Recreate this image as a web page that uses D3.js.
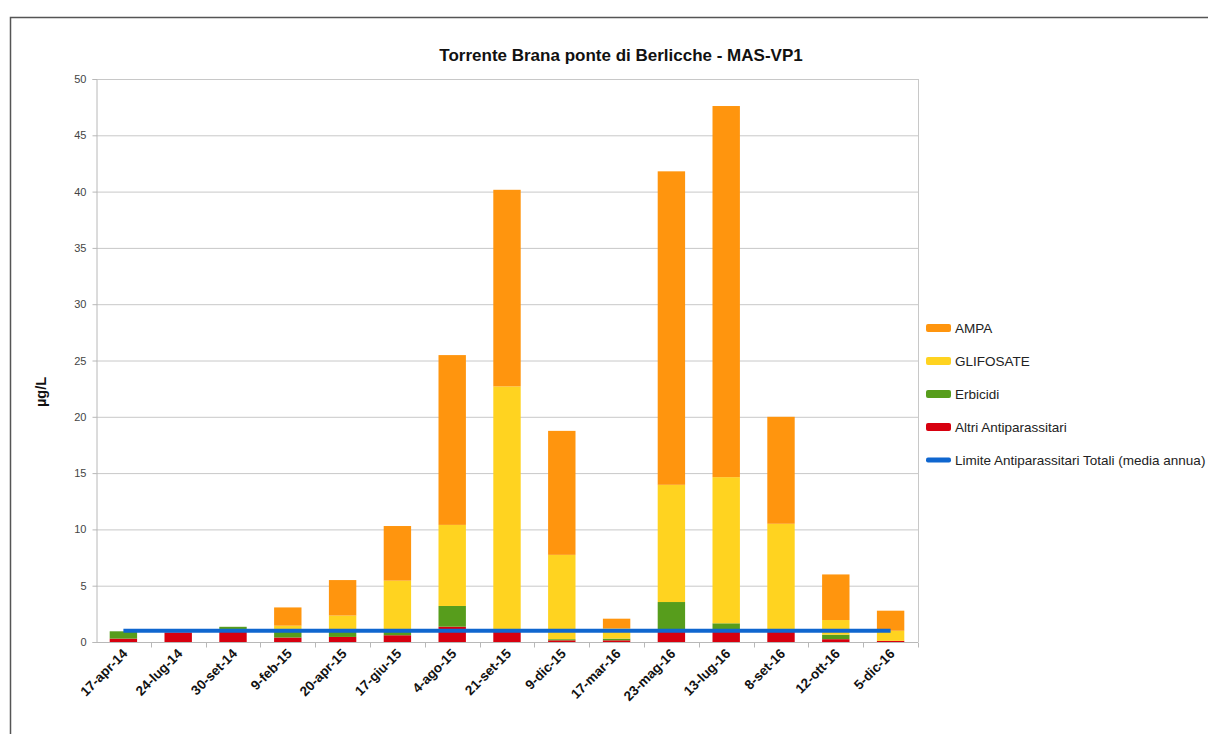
<!DOCTYPE html>
<html>
<head>
<meta charset="utf-8">
<script src="https://cdn.jsdelivr.net/npm/d3@7"></script>
<style>
  html, body { margin: 0; padding: 0; background: #fff; }
  svg { display: block; font-family: "Liberation Sans", Arial, sans-serif; }
</style>
</head>
<body>
<svg id="chart" width="1208" height="734"></svg>
<script>
// Sampling dates (x categories)
const dates = ["17-apr-14","24-lug-14","30-set-14","9-feb-15","20-apr-15","17-giu-15","4-ago-15",
  "21-set-15","9-dic-15","17-mar-16","23-mag-16","13-lug-16","8-set-16","12-ott-16","5-dic-16"];

// Concentrations in µg/L, stacked bottom to top
const altriAntiparassitari = [0.3, 0.85, 1.0, 0.4, 0.45, 0.6, 1.36, 0.95, 0.15, 0.15, 0.9, 0.9, 0.9, 0.25, 0.1];
const erbicidi            = [0.65, 0, 0.35, 0.75, 0.55, 0.4, 1.84, 0, 0.1, 0.15, 2.65, 0.76, 0, 0.4, 0];
const glifosate           = [0, 0, 0, 0.3, 1.35, 4.45, 7.2, 21.75, 7.49, 0.9, 10.41, 12.98, 9.6, 1.3, 0.9];
const ampa                = [0, 0, 0, 1.62, 3.15, 4.85, 15.08, 17.46, 11.01, 0.87, 27.84, 32.96, 9.5, 4.05, 1.78];

// Annual-average limit for total pesticides
const limiteTotali = 1.0;

const yTicks = [0, 5, 10, 15, 20, 25, 30, 35, 40, 45, 50];

const seriesNames = ["Altri Antiparassitari", "Erbicidi", "GLIFOSATE", "AMPA"];
const seriesColors = {
  "AMPA": "#ff950e",
  "GLIFOSATE": "#ffd320",
  "Erbicidi": "#579d1c",
  "Altri Antiparassitari": "#d7000f"
};
const limitColor = "#0f66cf";

const rows = dates.map((d, i) => ({
  date: d,
  "Altri Antiparassitari": altriAntiparassitari[i],
  "Erbicidi": erbicidi[i],
  "GLIFOSATE": glifosate[i],
  "AMPA": ampa[i]
}));

const svg = d3.select("#chart");

// Outer frame
svg.append("rect")
  .attr("x", 10.5).attr("y", 17.5)
  .attr("width", 1300).attr("height", 800)
  .attr("fill", "none").attr("stroke", "#555").attr("stroke-width", 1.5);

const plot = { left: 96, top: 79, right: 918, bottom: 642 };

const x = d3.scaleBand().domain(dates).range([plot.left, plot.right]).paddingInner(0.5).paddingOuter(0.25);
const y = d3.scaleLinear().domain([0, 50]).range([plot.bottom, plot.top]);

// Horizontal grid lines
svg.append("g")
  .selectAll("line")
  .data(yTicks.filter(t => t > 0))
  .join("line")
  .attr("x1", plot.left).attr("x2", plot.right)
  .attr("y1", d => y(d) + 0.5).attr("y2", d => y(d) + 0.5)
  .attr("stroke", "#c8c8c8").attr("stroke-width", 1);

// Plot frame (right edge)
svg.append("line")
  .attr("x1", plot.right + 0.5).attr("x2", plot.right + 0.5)
  .attr("y1", plot.top).attr("y2", plot.bottom)
  .attr("stroke", "#c8c8c8");

// Stacked bars
const stack = d3.stack().keys(seriesNames)(rows);
svg.append("g")
  .selectAll("g")
  .data(stack)
  .join("g")
  .attr("fill", d => seriesColors[d.key])
  .selectAll("rect")
  .data(d => d)
  .join("rect")
  .attr("x", d => x(d.data.date))
  .attr("width", x.bandwidth())
  .attr("y", d => y(d[1]))
  .attr("height", d => Math.max(0, y(d[0]) - y(d[1])));

// Y axis
const yAxis = svg.append("g")
  .attr("transform", `translate(${plot.left + 0.5},0)`)
  .call(d3.axisLeft(y).tickValues(yTicks).tickSize(4).tickPadding(6));
yAxis.select(".domain").attr("stroke", "#b8b8b8");
yAxis.selectAll(".tick line").attr("stroke", "#b8b8b8");
yAxis.selectAll(".tick text").attr("fill", "#444").attr("font-size", 11);

// X axis with ticks at category boundaries
const xAxisG = svg.append("g").attr("transform", `translate(0,${plot.bottom + 0.5})`);
xAxisG.append("line")
  .attr("x1", plot.left).attr("x2", plot.right)
  .attr("stroke", "#b8b8b8");
const halfGap = x.step() * x.paddingInner() / 2;
const boundaries = dates.map(d => x(d) - halfGap).slice(1).concat([plot.right]);
xAxisG.selectAll(".sep")
  .data(boundaries)
  .join("line")
  .attr("class", "sep")
  .attr("x1", d => Math.round(d) + 0.5).attr("x2", d => Math.round(d) + 0.5)
  .attr("y1", 0).attr("y2", 5)
  .attr("stroke", "#b8b8b8");

xAxisG.selectAll("text")
  .data(dates)
  .join("text")
  .attr("transform", d => `translate(${x(d) + x.bandwidth() / 2 + 5},${12}) rotate(-45)`)
  .attr("text-anchor", "end")
  .attr("font-size", 13.5)
  .attr("font-weight", "bold")
  .attr("fill", "#111")
  .text(d => d);

// Annual limit line spanning first to last category
const xc = d => x(d) + x.bandwidth() / 2;
svg.append("line")
  .attr("x1", xc(dates[0])).attr("x2", xc(dates[dates.length - 1]))
  .attr("y1", y(limiteTotali)).attr("y2", y(limiteTotali))
  .attr("stroke", limitColor).attr("stroke-width", 4);

// Title
svg.append("text")
  .attr("x", 621).attr("y", 61)
  .attr("text-anchor", "middle")
  .attr("font-size", 17)
  .attr("font-weight", "bold")
  .attr("fill", "#111")
  .text("Torrente Brana ponte di Berlicche - MAS-VP1");

// Y axis title
svg.append("text")
  .attr("transform", "translate(46,392) rotate(-90)")
  .attr("text-anchor", "middle")
  .attr("font-size", 14.5)
  .attr("font-weight", "bold")
  .attr("fill", "#111")
  .text("µg/L");

// Legend
const legendItems = [
  { name: "AMPA", color: seriesColors["AMPA"] },
  { name: "GLIFOSATE", color: seriesColors["GLIFOSATE"] },
  { name: "Erbicidi", color: seriesColors["Erbicidi"] },
  { name: "Altri Antiparassitari", color: seriesColors["Altri Antiparassitari"] },
  { name: "Limite Antiparassitari Totali (media annua)", color: limitColor, line: true }
];
const lg = svg.append("g").attr("transform", "translate(926,328)");
const li = lg.selectAll("g").data(legendItems).join("g")
  .attr("transform", (d, i) => `translate(0,${i * 33})`);
li.append("rect")
  .attr("x", 0).attr("y", d => d.line ? -2.5 : -4)
  .attr("width", 25).attr("height", d => d.line ? 5 : 8)
  .attr("rx", 2)
  .attr("fill", d => d.color);
li.append("text")
  .attr("x", 29).attr("y", 5)
  .attr("font-size", 13.5)
  .attr("fill", "#222")
  .text(d => d.name);
</script>
</body>
</html>
